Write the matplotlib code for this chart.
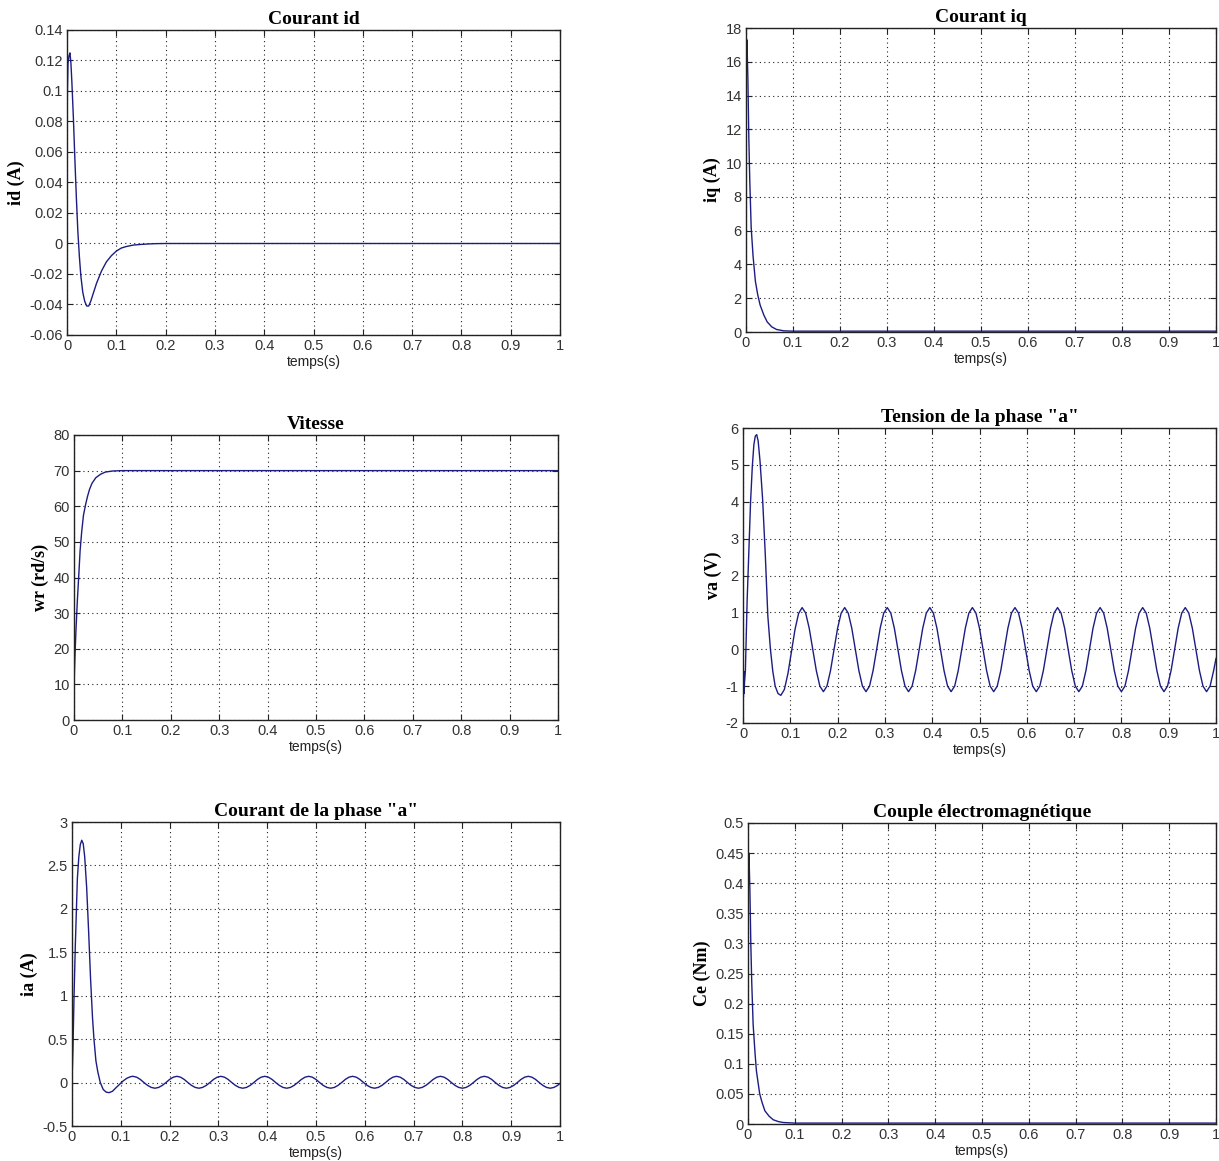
import matplotlib
matplotlib.use("Agg")
import matplotlib.pyplot as plt
from matplotlib.ticker import FuncFormatter

# ---------------- data ----------------
id_t = [0.0, 0.0008, 0.002, 0.004, 0.006, 0.008, 0.010, 0.013, 0.016, 0.019, 0.022,
        0.025, 0.028, 0.032, 0.036, 0.040, 0.044, 0.048, 0.054, 0.060, 0.070, 0.080,
        0.090, 0.100, 0.110, 0.120, 0.135, 0.150, 0.165, 0.180, 0.200, 1.0]
id_v = [0.06, 0.10, 0.118, 0.123, 0.125, 0.118, 0.105, 0.082, 0.055, 0.030, 0.008,
        -0.008, -0.021, -0.032, -0.038, -0.041, -0.041, -0.038, -0.032, -0.026, -0.018, -0.012,
        -0.008, -0.005, -0.003, -0.002, -0.001, -0.0006, -0.0003, -0.0001, 0.0, 0.0]

iq_t = [0.0, 0.001, 0.002, 0.004, 0.006, 0.008, 0.011, 0.015, 0.020, 0.025, 0.030,
        0.038, 0.045, 0.055, 0.065, 0.080, 0.100, 1.0]
iq_v = [15.0, 16.5, 17.3, 15.0, 11.5, 9.0, 6.2, 4.5, 3.0, 2.2, 1.6,
        1.0, 0.6, 0.3, 0.15, 0.07, 0.05, 0.05]

wr_t = [0.0, 0.001, 0.002, 0.004, 0.007, 0.010, 0.0126, 0.016, 0.0196, 0.024, 0.028,
        0.032, 0.037, 0.045, 0.055, 0.065, 0.080, 0.100, 1.0]
wr_v = [9.0, 14.0, 18.0, 25.0, 33.7, 41.0, 47.5, 53.0, 57.5, 60.5, 62.8,
        64.7, 66.4, 68.0, 69.0, 69.6, 69.9, 70.0, 70.0]

va_t_start = [0.0, 0.0008, 0.0016, 0.0024, 0.0032, 0.005, 0.0087, 0.0124, 0.016, 0.0197,
              0.023, 0.026, 0.029, 0.032, 0.036, 0.0415, 0.047, 0.0525, 0.058, 0.063,
              0.068, 0.074, 0.080, 0.0875, 0.095, 0.1025, 0.110, 0.1175]
va_start = [-0.5, -1.3, -0.6, -1.2, -0.9, -0.6, 1.3, 2.7, 4.0, 4.96,
            5.55, 5.78, 5.82, 5.65, 5.1, 4.06, 2.6, 0.9, 0.0, -0.6,
            -1.0, -1.2, -1.25, -1.09, -0.66, -0.06, 0.54, 0.97]

ia_t_start = [0.0, 0.002, 0.004, 0.0068, 0.009, 0.011, 0.014, 0.017, 0.020, 0.023,
              0.026, 0.030, 0.034, 0.038, 0.042, 0.045, 0.049, 0.053, 0.058, 0.064,
              0.070, 0.076, 0.083, 0.090, 0.0975, 0.105, 0.1125, 0.120]
ia_start = [0.0, 0.4, 0.95, 1.58, 2.0, 2.35, 2.6, 2.74, 2.79, 2.75,
            2.6, 2.25, 1.75, 1.2, 0.75, 0.5, 0.25, 0.12, 0.0, -0.08,
            -0.11, -0.116, -0.1, -0.06, -0.02, 0.02, 0.05, 0.068]

t_osc = [0.125, 0.1325, 0.14, 0.1475, 0.155, 0.1625, 0.17, 0.1775, 0.185, 0.1925, 0.2, 0.2075,
         0.215, 0.2225, 0.23, 0.2375, 0.245, 0.2525, 0.26, 0.2675, 0.275, 0.2825, 0.29, 0.2975,
         0.305, 0.3125, 0.32, 0.3275, 0.335, 0.3425, 0.35, 0.3575, 0.365, 0.3725, 0.38, 0.3875,
         0.395, 0.4025, 0.41, 0.4175, 0.425, 0.4325, 0.44, 0.4475, 0.455, 0.4625, 0.47, 0.4775,
         0.485, 0.4925, 0.5, 0.5075, 0.515, 0.5225, 0.53, 0.5375, 0.545, 0.5525, 0.56, 0.5675,
         0.575, 0.5825, 0.59, 0.5975, 0.605, 0.6125, 0.62, 0.6275, 0.635, 0.6425, 0.65, 0.6575,
         0.665, 0.6725, 0.68, 0.6875, 0.695, 0.7025, 0.71, 0.7175, 0.725, 0.7325, 0.74, 0.7475,
         0.755, 0.7625, 0.77, 0.7775, 0.785, 0.7925, 0.8, 0.8075, 0.815, 0.8225, 0.83, 0.8375,
         0.845, 0.8525, 0.86, 0.8675, 0.875, 0.8825, 0.89, 0.8975, 0.905, 0.9125, 0.92, 0.9275,
         0.935, 0.9425, 0.95, 0.9575, 0.965, 0.9725, 0.98, 0.9875, 0.995, 1.0]

va_osc = [1.13, 0.98, 0.57, 0.0, -0.58, -1.0, -1.15, -1.0, -0.58, 0.0, 0.57, 0.98,
          1.13, 0.98, 0.57, 0.0, -0.58, -1.0, -1.15, -1.0, -0.58, 0.0, 0.57, 0.98,
          1.13, 0.98, 0.57, 0.0, -0.58, -1.0, -1.15, -1.0, -0.58, 0.0, 0.57, 0.98,
          1.13, 0.98, 0.57, 0.0, -0.58, -1.0, -1.15, -1.0, -0.58, 0.0, 0.57, 0.98,
          1.13, 0.98, 0.57, 0.0, -0.58, -1.0, -1.15, -1.0, -0.58, 0.0, 0.57, 0.98,
          1.13, 0.98, 0.57, 0.0, -0.58, -1.0, -1.15, -1.0, -0.58, 0.0, 0.57, 0.98,
          1.13, 0.98, 0.57, 0.0, -0.58, -1.0, -1.15, -1.0, -0.58, 0.0, 0.57, 0.98,
          1.13, 0.98, 0.57, 0.0, -0.58, -1.0, -1.15, -1.0, -0.58, 0.0, 0.57, 0.98,
          1.13, 0.98, 0.57, 0.0, -0.58, -1.0, -1.15, -1.0, -0.58, 0.0, 0.57, 0.98,
          1.13, 0.98, 0.57, 0.0, -0.58, -1.0, -1.15, -1.0, -0.58, -0.25]

ia_osc = [0.072, 0.062, 0.036, 0.0, -0.033, -0.056, -0.065, -0.056, -0.033, 0.0, 0.036, 0.062,
          0.072, 0.062, 0.036, 0.0, -0.033, -0.056, -0.065, -0.056, -0.033, 0.0, 0.036, 0.062,
          0.072, 0.062, 0.036, 0.0, -0.033, -0.056, -0.065, -0.056, -0.033, 0.0, 0.036, 0.062,
          0.072, 0.062, 0.036, 0.0, -0.033, -0.056, -0.065, -0.056, -0.033, 0.0, 0.036, 0.062,
          0.072, 0.062, 0.036, 0.0, -0.033, -0.056, -0.065, -0.056, -0.033, 0.0, 0.036, 0.062,
          0.072, 0.062, 0.036, 0.0, -0.033, -0.056, -0.065, -0.056, -0.033, 0.0, 0.036, 0.062,
          0.072, 0.062, 0.036, 0.0, -0.033, -0.056, -0.065, -0.056, -0.033, 0.0, 0.036, 0.062,
          0.072, 0.062, 0.036, 0.0, -0.033, -0.056, -0.065, -0.056, -0.033, 0.0, 0.036, 0.062,
          0.072, 0.062, 0.036, 0.0, -0.033, -0.056, -0.065, -0.056, -0.033, 0.0, 0.036, 0.062,
          0.072, 0.062, 0.036, 0.0, -0.033, -0.056, -0.065, -0.056, -0.033, -0.01]

ce_t = [0.0, 0.001, 0.002, 0.004, 0.006, 0.008, 0.011, 0.015, 0.018, 0.025, 0.030,
        0.036, 0.045, 0.054, 0.065, 0.075, 0.100, 1.0]
ce_v = [0.39, 0.43, 0.45, 0.39, 0.30, 0.235, 0.165, 0.118, 0.088, 0.050, 0.036,
        0.022, 0.013, 0.007, 0.004, 0.0025, 0.0015, 0.0015]

x_ticks = [0, 0.1, 0.2, 0.3, 0.4, 0.5, 0.6, 0.7, 0.8, 0.9, 1]
id_ticks = [-0.06, -0.04, -0.02, 0, 0.02, 0.04, 0.06, 0.08, 0.1, 0.12, 0.14]
iq_ticks = [0, 2, 4, 6, 8, 10, 12, 14, 16, 18]
wr_ticks = [0, 10, 20, 30, 40, 50, 60, 70, 80]
va_ticks = [-2, -1, 0, 1, 2, 3, 4, 5, 6]
ia_ticks = [-0.5, 0, 0.5, 1, 1.5, 2, 2.5, 3]
ce_ticks = [0, 0.05, 0.1, 0.15, 0.2, 0.25, 0.3, 0.35, 0.4, 0.45, 0.5]

titles = ['Courant id', 'Courant iq', 'Vitesse', 'Tension de la phase "a"',
          'Courant de la phase "a"', 'Couple électromagnétique']
ylabels = ['id (A)', 'iq (A)', 'wr (rd/s)', 'va (V)', 'ia (A)', 'Ce (Nm)']
xlabel = 'temps(s)'

# ---------------- figure ----------------
W, H = 1219, 1161
fig = plt.figure(figsize=(W / 100, H / 100), dpi=100)
fig.patch.set_facecolor('white')

def rect(l, r, t, b):
    return [l / W, (H - b) / H, (r - l) / W, (b - t) / H]

boxes = [rect(67, 560, 30, 335), rect(746, 1216, 28, 332),
         rect(74, 558, 435, 720), rect(743, 1216, 428, 723),
         rect(72, 560, 822, 1126), rect(748, 1216, 823, 1124)]

series = [(id_t, id_v), (iq_t, iq_v), (wr_t, wr_v),
          (va_t_start + t_osc, va_start + va_osc),
          (ia_t_start + t_osc, ia_start + ia_osc), (ce_t, ce_v)]
yticks = [id_ticks, iq_ticks, wr_ticks, va_ticks, ia_ticks, ce_ticks]

line_color = '#1c1c82'
fmt = FuncFormatter(lambda v, p: ('%g' % round(v, 6)))

for box, (tx, vy), yt, title, yl in zip(boxes, series, yticks, titles, ylabels):
    ax = fig.add_axes(box)
    ax.plot(tx, vy, color=line_color, lw=1.0)
    ax.set_xlim(0, 1)
    ax.set_ylim(yt[0], yt[-1])
    ax.set_xticks(x_ticks)
    ax.set_yticks(yt)
    ax.xaxis.set_major_formatter(fmt)
    ax.yaxis.set_major_formatter(fmt)
    ax.grid(True, color='#222222', linestyle=(0, (1, 3)), linewidth=0.8)
    ax.tick_params(direction='in', top=True, right=True, length=4, width=0.8,
                   labelsize=10.5, pad=3, colors='#222222')
    for lab in ax.get_xticklabels() + ax.get_yticklabels():
        lab.set_fontfamily('Liberation Sans')
        lab.set_color('#333333')
    for s in ax.spines.values():
        s.set_color('#222222')
        s.set_linewidth(1.0)
    ax.set_title(title, fontfamily='Liberation Serif', fontweight='bold',
                 fontsize=14, pad=4.5)
    ax.set_xlabel(xlabel, fontfamily='Liberation Sans', fontsize=10, labelpad=1,
                  color='#222222')
    ax.set_ylabel(yl, fontfamily='Liberation Serif', fontweight='bold',
                  fontsize=13, labelpad=3)

fig.savefig('out.png', dpi=100, facecolor='white')
